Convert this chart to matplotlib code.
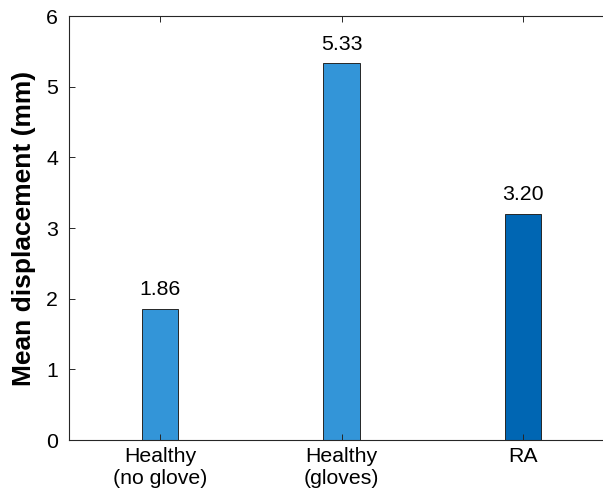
import matplotlib
matplotlib.use("Agg")
import matplotlib.pyplot as plt

groups = ["Healthy\n(no glove)", "Healthy\n(gloves)", "RA"]
meanDisp = [1.86, 5.33, 3.20]
barColors = ["#3395d8", "#3395d8", "#0066b3"]

plt.rcParams['font.family'] = ['Liberation Sans', 'DejaVu Sans']

fig = plt.figure(figsize=(6.03, 4.93), dpi=100)
# axes runs a bit past the right edge, like the cropped original
ax = fig.add_axes([69 / 603, 53 / 493, 545 / 603, 424 / 493])

positions = list(range(1, len(groups) + 1))
bars = ax.bar(positions, meanDisp, width=0.2, color=barColors,
              edgecolor="#262626", linewidth=0.7)

for b, v in zip(bars, meanDisp):
    ax.annotate("%.2f" % v, (b.get_x() + b.get_width() / 2, v),
                xytext=(0, 7), textcoords="offset points",
                ha="center", va="bottom", fontsize=15.3)

ax.set_xlim(0.5, 3.5)
ax.set_ylim(0, 6)
ax.set_xticks(positions)
ax.set_xticklabels(groups)
ax.set_yticks(range(0, 7))
ax.set_ylabel("Mean displacement (mm)", fontsize=19, fontweight="bold", labelpad=7)

ax.tick_params(direction="in", top=True, right=True, length=4, width=0.7,
               colors="#262626", labelsize=15.3, labelcolor="black")
ax.tick_params(axis="x", pad=5)
ax.tick_params(axis="y", pad=8)
for s in ax.spines.values():
    s.set_color("#262626")
    s.set_linewidth(0.8)

plt.savefig("out.png")
